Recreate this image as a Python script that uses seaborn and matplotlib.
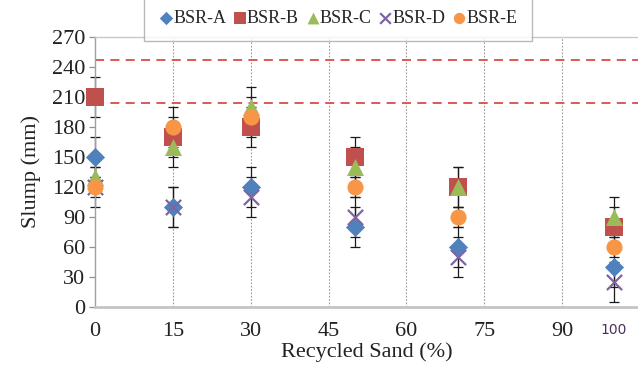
import matplotlib
matplotlib.use('Agg')
import matplotlib.pyplot as plt
import numpy as np
import pandas as pd
import seaborn as sns

sns.set_theme(style='white')
plt.rcParams['font.family'] = ['Liberation Serif', 'DejaVu Serif']

# data
sand_pct = [0, 15, 30, 50, 70, 100]
series = ['BSR-A', 'BSR-B', 'BSR-C', 'BSR-D', 'BSR-E']
slump_a = [150, 100, 120, 80, 60, 40]
slump_b = [210, 170, 180, 150, 120, 80]
slump_c = [130, 160, 200, 140, 120, 90]
slump_d = [120, 100, 110, 90, 50, 25]
slump_e = [120, 180, 190, 120, 90, 60]
err_a = [20, 20, 20, 20, 20, 20]
err_b = [20, 20, 20, 20, 20, 20]
err_c = [10, 20, 20, 20, 20, 20]
err_d = [10, 20, 20, 20, 20, 20]
err_e = [20, 20, 20, 10, 10, 10]
slump_limits = [204, 247]
x_ticks = [0, 15, 30, 45, 60, 75, 90]
y_ticks = list(range(0, 271, 30))

vals = [slump_a, slump_b, slump_c, slump_d, slump_e]
errs = [err_a, err_b, err_c, err_d, err_e]
df = pd.concat([pd.DataFrame({'sand': sand_pct, 'slump': v, 'err': e, 'mix': s})
                for s, v, e in zip(series, vals, errs)], ignore_index=True)

colors = {'BSR-A': '#4F81BD', 'BSR-B': '#C0504D', 'BSR-C': '#9BBB59',
          'BSR-D': '#8064A2', 'BSR-E': '#F79646'}
markers = {'BSR-A': 'D', 'BSR-B': 's', 'BSR-C': '^', 'BSR-D': 'x', 'BSR-E': 'o'}
sizes = {'BSR-A': 95, 'BSR-B': 160, 'BSR-C': 150, 'BSR-D': 120, 'BSR-E': 135}

fig = plt.figure(figsize=(6.38, 3.66), dpi=100)
ax = fig.add_axes([95/638, 59/366, 543/638, 270/366])

for xv in x_ticks[1:]:
    ax.axvline(xv, color='#9A9A9A', lw=0.8, ls=(0, (1.5, 1.5)), zorder=0)
for yl in slump_limits:
    ax.axhline(yl, color='#DB4B48', lw=1.3, ls=(0, (5, 3.5)), zorder=1)

for s in series:
    d = df[df['mix'] == s]
    ax.errorbar(d['sand'], d['slump'], yerr=d['err'], fmt='none', ecolor='#1a1a1a',
                elinewidth=0.9, capsize=3.5, capthick=0.9, zorder=2, clip_on=False)

for i, s in enumerate(series):
    d = df[df['mix'] == s]
    kw = dict(linewidth=1.6) if markers[s] == 'x' else dict(linewidth=0)
    sns.scatterplot(data=d, x='sand', y='slump', ax=ax, marker=markers[s], color=colors[s],
                    s=sizes[s], zorder=3 + i, clip_on=False, label=s, legend=False, **kw)

ax.set_xlim(0, 104.6)
ax.set_ylim(0, 270)
ax.set_xticks(x_ticks)
ax.set_yticks(y_ticks)
ax.tick_params(axis='x', length=0, pad=11, labelsize=16, labelcolor='#222222')
ax.tick_params(axis='y', length=4, width=0.9, color='#909090', pad=3, labelsize=16,
               labelcolor='#222222', direction='out', left=True)
ax.text(100, -16, '100', ha='center', va='top', fontsize=10, color='#4b2f63',
        family=['DejaVu Sans'], clip_on=False)

ax.set_xlabel('Recycled Sand (%)', fontsize=16, color='#222222', labelpad=1)
ax.set_ylabel('Slump (mm)', fontsize=16, color='#222222', labelpad=8)

ax.spines['left'].set_color('#A0A0A0')
ax.spines['left'].set_linewidth(1.0)
ax.spines['bottom'].set_color('#C4C4C4')
ax.spines['bottom'].set_linewidth(2.0)
ax.spines['top'].set_color('#C8C8C8')
ax.spines['top'].set_linewidth(1.0)
ax.spines['right'].set_visible(False)

h, l = ax.get_legend_handles_labels()
leg = fig.legend(h, l, loc='lower center', bbox_to_anchor=(338/638, 1 - 41/366), ncol=5,
                 fontsize=13, frameon=True, fancybox=False, edgecolor='#A8A8A8',
                 borderpad=0.8, handletextpad=0.0, columnspacing=0.35, handlelength=0.8,
                 markerscale=0.7, borderaxespad=0)
leg.get_frame().set_linewidth(1.0)
leg.set_zorder(10)

fig.savefig('out.png', dpi=100)
